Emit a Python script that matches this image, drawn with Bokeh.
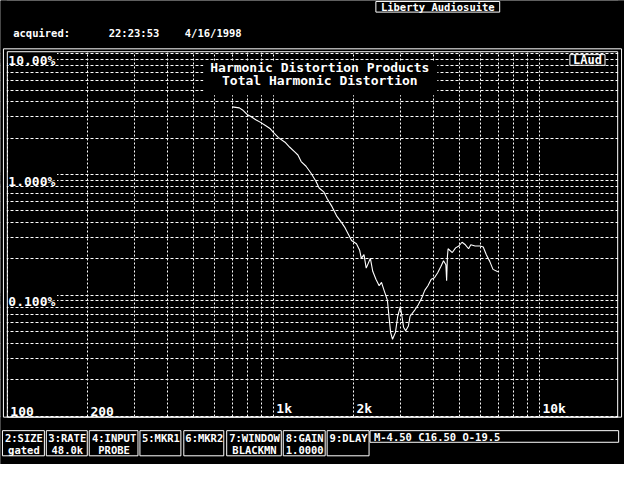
from bokeh.plotting import figure
from bokeh.models import Label, BoxAnnotation, Grid, FixedTicker, Range1d
from bokeh.embed import file_html
from bokeh.resources import INLINE

# ---------------- data ----------------
freq_hz = [700, 745, 766, 800, 823, 859, 895, 934, 974, 1002, 1045, 1106, 1153, 1203,
           1237, 1272, 1327, 1384, 1444, 1486, 1550, 1594, 1662, 1734, 1808, 1859, 1914,
           1968, 2053, 2111, 2141, 2191, 2234, 2316, 2364, 2430, 2499, 2550, 2607, 2683,
           2720, 2759, 2805, 2877, 2934, 3001, 3044, 3086, 3144, 3219, 3265, 3406, 3502,
           3605, 3707, 3811, 3922, 4033, 4147, 4267, 4362, 4451, 4481, 4511, 4538, 4706,
           4842, 4979, 5120, 5270, 5418, 5524, 5733, 5982, 6151, 6324, 6508, 6692, 6981]
thd_pct = [3.63, 3.56, 3.42, 3.12, 3.02, 2.84, 2.70, 2.54, 2.39, 2.22, 2.02, 1.85, 1.68, 1.54,
           1.45, 1.28, 1.17, 1.03, 0.884, 0.773, 0.714, 0.631, 0.542, 0.450, 0.398, 0.363, 0.321,
           0.284, 0.267, 0.236, 0.2025, 0.217, 0.168, 0.2025, 0.158, 0.136, 0.120, 0.128, 0.110, 0.0912,
           0.0671, 0.0494, 0.0433, 0.0494, 0.0671, 0.0806, 0.0671, 0.0545, 0.0509, 0.0558, 0.0671, 0.0759, 0.0832,
           0.094, 0.110, 0.120, 0.136, 0.140, 0.154, 0.174, 0.193, 0.179, 0.132, 0.209, 0.243, 0.226,
           0.247, 0.256, 0.275, 0.262, 0.243, 0.262, 0.256, 0.256, 0.251, 0.216, 0.191, 0.164, 0.157]

x_grid_hz = [100, 200, 300, 400, 500, 600, 700, 800, 900, 1000,
             2000, 3000, 4000, 5000, 6000, 7000, 8000, 9000, 10000]
y_grid_pct = [0.01, 0.02, 0.03, 0.04, 0.05, 0.06, 0.07, 0.08, 0.09,
              0.1, 0.2, 0.3, 0.4, 0.5, 0.6, 0.7, 0.8, 0.9,
              1, 2, 3, 4, 5, 6, 7, 8, 9, 10]
x_tick_values = [100, 200, 1000, 2000, 10000]
x_tick_labels = ["100", "200", "1k", "2k", "10k"]
y_tick_values = [10, 1, 0.1]
y_tick_labels = ["10.00%", "1.000%", "0.100%"]

title_lines = ["Harmonic Distortion Products", "Total Harmonic Distortion"]
header_text = "Liberty Audiosuite"
acquired_texts = ["acquired:", "22:23:53", "4/16/1998"]
badge_text = "LAud"
button_top = ["2:SIZE", "3:RATE", "4:INPUT", "5:MKR1", "6:MKR2", "7:WINDOW", "8:GAIN", "9:DLAY"]
button_bottom = ["gated", "48.0k", "PROBE", "", "", "BLACKMN", "1.0000", ""]
status_text = "M-4.50 C16.50 O-19.5"

# ---------------- layout (reference 640x480 pixel grid, scaled) ----------------
W, H = 624, 464
SX, SY = W / 640.0, H / 480.0
FONT = "DejaVu Sans Mono"
SMALL = "10.5px"
LARGE = "13px"

button_x = [(2, 45), (47, 89), (91, 141), (143, 185), (188, 229), (232, 288), (290, 333), (335, 378)]
acquired_x = [13, 111, 189]

# plot area geometry in reference pixels: 100 Hz at x=7, 272.85 px per decade;
# 10 % at y=55, 125 px per decade
X100, DEC_X = 7.0, 272.85
Y10, DEC_Y = 55.0, 125.0


def cx(X):
    return X * SX


def cy(Y):
    return Y * SY


dx = DEC_X * SX
dy = DEC_Y * SY
x_start = 10 ** (2 - cx(X100) / dx)
x_end = 10 ** (2 + (W - cx(X100)) / dx)
y_top = 10 ** (1 + cy(Y10) / dy)
y_bottom = 10 ** (1 - (H - cy(Y10)) / dy)

p = figure(width=W, height=H, x_axis_type="log", y_axis_type="log",
           x_range=Range1d(x_start, x_end), y_range=Range1d(y_bottom, y_top),
           x_axis_location=None, y_axis_location=None, title_location=None,
           toolbar_location=None, output_backend="svg",
           background_fill_color="black", border_fill_color="black",
           outline_line_color=None, min_border=0,
           min_border_left=0, min_border_right=0, min_border_top=0, min_border_bottom=0)
p.grid.visible = False

for dim, ticks, dash in ((0, x_grid_hz, "2 2"), (1, y_grid_pct, "3 2")):
    p.add_layout(Grid(dimension=dim, ticker=FixedTicker(ticks=ticks),
                      grid_line_color="white", grid_line_dash=dash, grid_line_width=1))

p.line(freq_hz, thd_pct, line_color="white", line_width=1.1)


def box(x0, y0, x1, y1, fill=None, line="white"):
    b = BoxAnnotation(left=cx(x0), right=cx(x1), top=cy(y0), bottom=cy(y1),
                      left_units="canvas", right_units="canvas",
                      top_units="canvas", bottom_units="canvas",
                      fill_color=fill if fill else "black", fill_alpha=1 if fill else 0,
                      line_color=line if line else "black", line_alpha=1 if line else 0,
                      line_width=1)
    p.add_layout(b)


def txt(X, Y, s, size, align="left"):
    p.add_layout(Label(x=cx(X), y=cy(Y), x_units="canvas", y_units="canvas", text=s,
                       text_color="white", text_font=FONT, text_font_style="bold",
                       text_font_size=size, text_align=align, text_baseline="middle"))


# masks: outside the plot area, behind tick labels and title
box(0, 0, 640, 53.5, fill="black", line=None)
box(0, 431, 640, 480, fill="black", line=None)
box(0, 0, 6.5, 480, fill="black", line=None)
box(633.5, 0, 640, 480, fill="black", line=None)
for v in y_tick_values:
    p.add_layout(BoxAnnotation(left=x_start, right=cx(58), right_units="canvas",
                               top=v * 1.04, bottom=v * 0.84,
                               fill_color="black", fill_alpha=1, line_alpha=0))
box(208, 63, 448, 98, fill="black", line=None)

# plot frame (double line)
box(3, 50, 637, 431)
box(7, 53, 633, 431)

# tick labels
for v, s in zip(y_tick_values, y_tick_labels):
    p.add_layout(Label(x=100, y=v, x_offset=1, y_offset=1, text=s, text_color="white",
                       text_font=FONT, text_font_style="bold", text_font_size=LARGE,
                       text_align="left", text_baseline="top"))
for v, s in zip(x_tick_values, x_tick_labels):
    p.add_layout(Label(x=v, y=0.01, x_offset=3, text=s, text_color="white", text_font=FONT,
                       text_font_style="bold", text_font_size=LARGE,
                       text_align="left", text_baseline="bottom"))

# title
txt(327.5, 69.5, title_lines[0], LARGE, "center")
txt(327.5, 83, title_lines[1], LARGE, "center")

# badge
box(584, 56, 620, 67, fill="black")
txt(602, 61.5, badge_text, "12px", "center")

# header
box(385, 1, 512, 12)
txt(448.5, 6.5, header_text, SMALL, "center")
for X, s in zip(acquired_x, acquired_texts):
    txt(X, 33.5, s, SMALL)

# bottom buttons
for (x0, x1), t1, t2 in zip(button_x, button_top, button_bottom):
    box(x0, 445, x1, 471)
    txt((x0 + x1) / 2 + 0.5, 452.5, t1, SMALL, "center")
    if t2:
        txt((x0 + x1) / 2 + 0.5, 464.5, t2, SMALL, "center")
box(379, 445, 634, 457)
txt(383, 451.5, status_text, SMALL)

open("out.html", "w").write(file_html(p, INLINE))
